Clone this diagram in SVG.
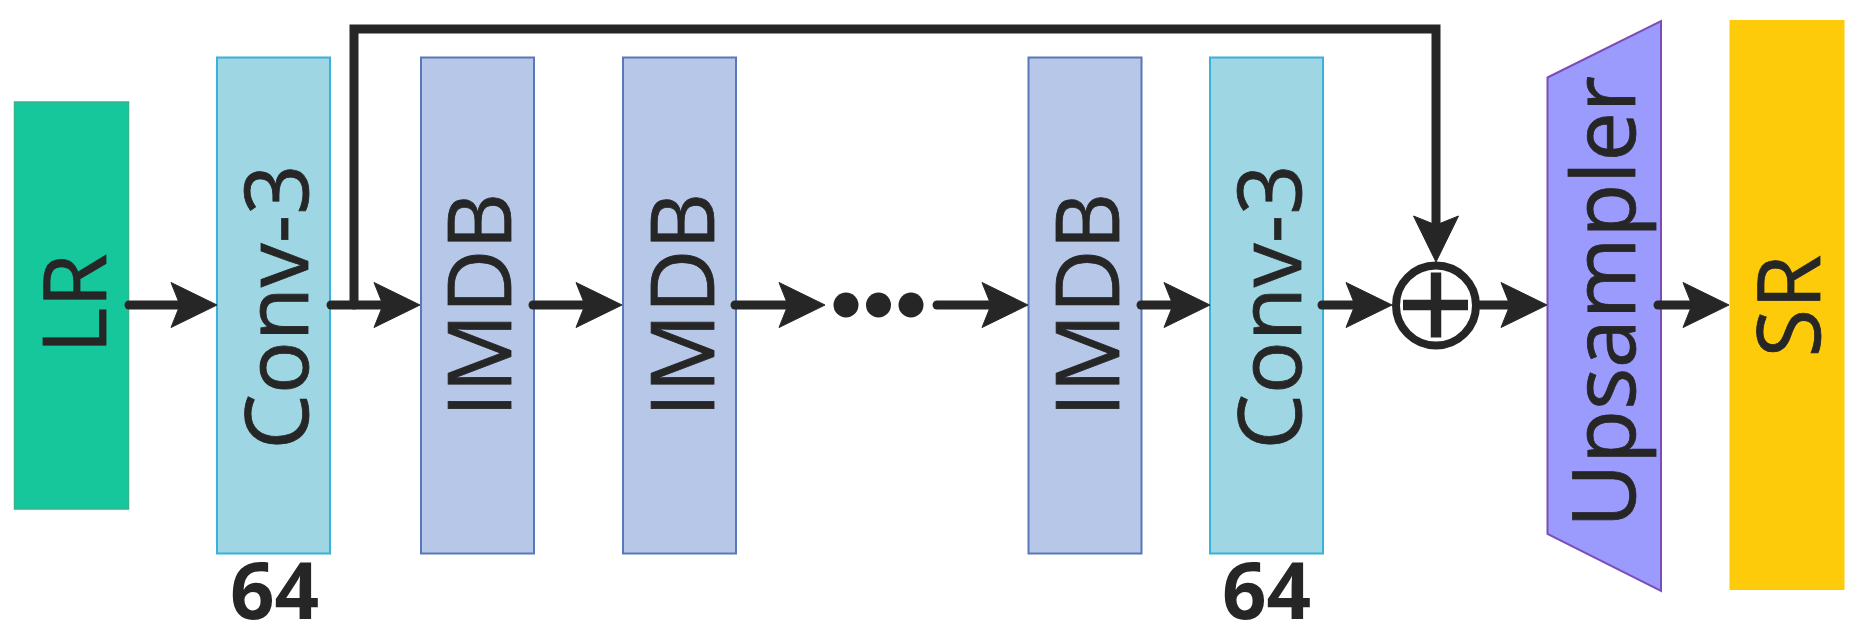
<svg xmlns="http://www.w3.org/2000/svg" xmlns:xlink="http://www.w3.org/1999/xlink" width="1858" height="637" viewBox="0 0 1858 637">
  <style>
    .lbl { font-family: "Open Sans", "Liberation Sans", sans-serif; font-size: 88px; font-weight: 400; fill: #262626; stroke: #262626; stroke-width: 0.8; text-anchor: middle; }
    .num { font-family: "Open Sans", "Liberation Sans", sans-serif; font-size: 78px; font-weight: 700; fill: #262626; text-anchor: middle; }
    .conv { fill: #9ED6E4; stroke: #38B2DA; stroke-width: 2; }
    .imdb { fill: #B6C7E7; stroke: #5A78B8; stroke-width: 2; }
    .wire { fill: none; stroke: #262626; stroke-width: 9; stroke-linecap: round; }
    .head { fill: #262626; stroke: #262626; stroke-width: 1; stroke-linejoin: miter; }
  </style>
  <defs>
    <path id="ah" class="head" d="M0,0 L-46,-22.5 L-37,0 L-46,22.5 Z"/>
  </defs>
  <rect width="1858" height="637" fill="#FFFFFF"/>

  <g id="lr">
    <rect x="14.5" y="102" width="114" height="407" fill="#16C79B" stroke="#34B48E" stroke-width="1.5"/>
    <text class="lbl" transform="translate(106,303.5) rotate(-90)">LR</text>
  </g>

  <g id="conv1">
    <rect class="conv" x="217" y="57.5" width="113" height="496"/>
    <text class="lbl" transform="translate(308,307) rotate(-90)">Conv-3</text>
    <text class="num" x="274.5" y="619">64</text>
  </g>

  <g id="imdb1">
    <rect class="imdb" x="421" y="57.5" width="113" height="496"/>
    <text class="lbl" transform="translate(511,305) rotate(-90)">IMDB</text>
  </g>

  <g id="imdb2">
    <rect class="imdb" x="623" y="57.5" width="113" height="496"/>
    <text class="lbl" transform="translate(714,305) rotate(-90)">IMDB</text>
  </g>

  <g id="dots" fill="#262626">
    <circle cx="846" cy="305" r="12.5"/>
    <circle cx="878.5" cy="305" r="12.5"/>
    <circle cx="911" cy="305" r="12.5"/>
  </g>

  <g id="imdb3">
    <rect class="imdb" x="1028.5" y="57.5" width="113" height="496"/>
    <text class="lbl" transform="translate(1119,305) rotate(-90)">IMDB</text>
  </g>

  <g id="conv2">
    <rect class="conv" x="1210" y="57.5" width="113" height="496"/>
    <text class="lbl" transform="translate(1301,307) rotate(-90)">Conv-3</text>
    <text class="num" x="1266.5" y="619">64</text>
  </g>

  <g id="add">
    <circle cx="1436" cy="305.5" r="40" fill="#FFFFFF" stroke="#262626" stroke-width="8"/>
    <line x1="1403" y1="305" x2="1468" y2="305" stroke="#262626" stroke-width="10.5"/>
    <line x1="1436" y1="272.5" x2="1436" y2="337.5" stroke="#262626" stroke-width="10.5"/>
  </g>

  <g id="upsampler">
    <polygon points="1547.5,77.5 1661,21 1661,591 1547.5,534" fill="#9B9BFE" stroke="#7A4DB8" stroke-width="2"/>
    <text class="lbl" transform="translate(1635,302) rotate(-90)">Upsampler</text>
  </g>

  <g id="sr">
    <rect x="1729.5" y="20" width="115" height="570" fill="#FECB0A"/>
    <text class="lbl" transform="translate(1820,306) rotate(-90)">SR</text>
  </g>

  <g id="connectors">
    <line class="wire" x1="129" y1="305" x2="185" y2="305"/>
    <use xlink:href="#ah" href="#ah" transform="translate(217,305)"/>
    <line class="wire" x1="331" y1="305" x2="388" y2="305"/>
    <use xlink:href="#ah" href="#ah" transform="translate(420,305)"/>
    <path class="wire" d="M354,305 V29 H1436 V230" stroke-linecap="butt" stroke-linejoin="miter"/>
    <use xlink:href="#ah" href="#ah" transform="translate(1436,262) rotate(90)"/>
    <line class="wire" x1="533" y1="305" x2="590" y2="305"/>
    <use xlink:href="#ah" href="#ah" transform="translate(622,305)"/>
    <line class="wire" x1="735" y1="305" x2="793" y2="305"/>
    <use xlink:href="#ah" href="#ah" transform="translate(825,305)"/>
    <line class="wire" x1="937" y1="305" x2="996" y2="305"/>
    <use xlink:href="#ah" href="#ah" transform="translate(1028,305)"/>
    <line class="wire" x1="1141" y1="305" x2="1178" y2="305"/>
    <use xlink:href="#ah" href="#ah" transform="translate(1210,305)"/>
    <line class="wire" x1="1322" y1="305" x2="1360" y2="305"/>
    <use xlink:href="#ah" href="#ah" transform="translate(1392,305)"/>
    <line class="wire" x1="1480" y1="305" x2="1515" y2="305"/>
    <use xlink:href="#ah" href="#ah" transform="translate(1547,305)"/>
    <line class="wire" x1="1658" y1="305" x2="1697" y2="305"/>
    <use xlink:href="#ah" href="#ah" transform="translate(1729,305)"/>
  </g>
</svg>
